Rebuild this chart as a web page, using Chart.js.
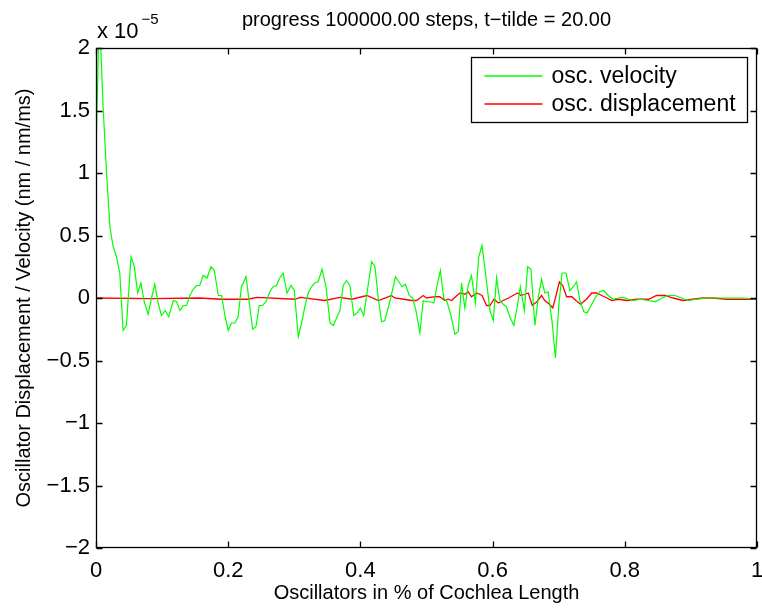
<!DOCTYPE html>
<html>
<head>
<meta charset="utf-8">
<script src="https://cdn.jsdelivr.net/npm/chart.js@4.4.1/dist/chart.umd.min.js"></script>
<style>
  html, body { margin: 0; padding: 0; background: #fff; }
  #wrap { width: 762px; height: 609px; }
</style>
</head>
<body>
<div id="wrap"><canvas id="chart" width="762" height="609"></canvas></div>
<script>
// oscillator position (fraction of cochlea length)
const velX = [
  0, 0.005, 0.011, 0.016, 0.021, 0.026, 0.031, 0.036, 0.041, 0.046,
  0.053, 0.058, 0.063, 0.068, 0.073, 0.079, 0.084, 0.089, 0.094, 0.099,
  0.105, 0.110, 0.117, 0.122, 0.127, 0.132, 0.137, 0.142, 0.147, 0.152,
  0.157, 0.162, 0.168, 0.174, 0.179, 0.185, 0.190, 0.195, 0.200, 0.205,
  0.210, 0.215, 0.220, 0.227, 0.232, 0.237, 0.242, 0.247, 0.252, 0.257,
  0.263, 0.268, 0.273, 0.278, 0.283, 0.289, 0.295, 0.300, 0.306, 0.311,
  0.316, 0.321, 0.326, 0.331, 0.336, 0.342, 0.348, 0.354, 0.359, 0.364,
  0.369, 0.374, 0.379, 0.384, 0.390, 0.395, 0.400, 0.405, 0.410, 0.417,
  0.422, 0.427, 0.432, 0.437, 0.443, 0.448, 0.453, 0.458, 0.463, 0.468,
  0.474, 0.479, 0.484, 0.490, 0.495, 0.500, 0.505, 0.511, 0.516, 0.521,
  0.526, 0.531, 0.537, 0.543, 0.548, 0.553, 0.558, 0.563, 0.568, 0.574,
  0.579, 0.584, 0.590, 0.596, 0.601, 0.606, 0.611, 0.616, 0.621, 0.626,
  0.632, 0.637, 0.642, 0.648, 0.653, 0.658, 0.664, 0.669, 0.674, 0.679,
  0.684, 0.690, 0.695, 0.700, 0.705, 0.711, 0.717, 0.722, 0.727, 0.732,
  0.738, 0.743, 0.748, 0.755, 0.762, 0.768, 0.775, 0.782, 0.790, 0.798,
  0.805, 0.813, 0.823, 0.836, 0.846, 0.856, 0.866, 0.876, 0.886, 0.896,
  0.909, 0.924, 0.939, 0.959, 0.979, 1.0
];
// osc. velocity, units of 1e-5
const velocity = [
  1.16, 2.3, 1.5, 1.0, 0.57, 0.41, 0.33, 0.20, -0.26, -0.22,
  0.33, 0.25, 0.04, 0.12, -0.03, -0.13, 0.0, 0.11, -0.04, -0.14,
  -0.10, -0.15, -0.02, -0.03, -0.10, -0.06, -0.06, 0.02, 0.07, 0.10,
  0.10, 0.18, 0.16, 0.25, 0.22, 0.02, 0.02, -0.14, -0.26, -0.20,
  -0.20, -0.15, 0.09, 0.17, -0.04, -0.25, -0.23, -0.06, -0.06, -0.03,
  0.05, 0.09, 0.10, 0.16, 0.20, 0.04, 0.10, 0.06, -0.31, -0.20,
  -0.07, 0.04, 0.09, 0.12, 0.13, 0.23, 0.09, -0.20, -0.22, -0.16,
  -0.10, 0.10, 0.14, 0.10, -0.14, -0.12, -0.08, -0.14, 0.04, 0.29,
  0.25, 0.0, -0.19, -0.18, -0.06, 0.05, 0.17, 0.13, 0.09, 0.11,
  0.02, 0.0, -0.10, -0.28, -0.02, -0.03, -0.03, -0.04, 0.10, 0.22,
  0.0, -0.03, -0.14, -0.29, -0.27, 0.12, -0.08, 0.10, 0.18, -0.04,
  0.33, 0.42, 0.17, -0.10, -0.18, 0.16, -0.02, -0.05, -0.07, -0.15,
  -0.22, -0.08, 0.09, -0.10, 0.25, 0.23, -0.22, 0.0, 0.15, 0.04,
  0.05, -0.19, -0.48, -0.07, 0.20, 0.20, 0.06, 0.09, 0.13, -0.02,
  -0.11, -0.12, -0.07, 0.0, 0.05, 0.06, 0.02, -0.01, 0.0, 0.005,
  -0.01, -0.02, -0.01, -0.02, -0.03, 0.0, 0.02, 0.02, 0.0, -0.02,
  -0.01, 0.0, 0.0, 0.0, 0.0, -0.01
];

const dispX = [
  0, 0.082, 0.157, 0.188, 0.230, 0.243, 0.301, 0.309, 0.346, 0.369,
  0.387, 0.410, 0.427, 0.440, 0.447, 0.452, 0.465, 0.478, 0.485, 0.490,
  0.495, 0.500, 0.505, 0.513, 0.520, 0.528, 0.533, 0.538, 0.546, 0.551,
  0.558, 0.563, 0.568, 0.576, 0.584, 0.591, 0.596, 0.602, 0.609, 0.616,
  0.624, 0.631, 0.638, 0.643, 0.649, 0.654, 0.660, 0.667, 0.674, 0.679,
  0.686, 0.691, 0.696, 0.701, 0.706, 0.712, 0.720, 0.726, 0.733, 0.742,
  0.750, 0.757, 0.765, 0.773, 0.780, 0.790, 0.803, 0.818, 0.836, 0.848,
  0.861, 0.873, 0.888, 0.903, 0.918, 0.933, 0.954, 0.974, 1.0
];
// osc. displacement, units of 1e-5
const displacement = [
  0, -0.005, 0, -0.01, -0.01, 0.005, -0.01, 0.005, -0.02, 0.005,
  -0.01, 0.02, -0.02, 0.005, 0.02, 0.0, -0.01, -0.02, -0.02, 0.0,
  0.02, 0.0, 0.005, 0.01, 0.01, -0.02, -0.01, -0.02, 0.02, 0.04,
  0.03, 0.05, 0.01, 0.04, 0.02, -0.06, -0.06, -0.01, -0.04, -0.02,
  0.0, 0.02, 0.04, 0.02, 0.03, 0.04, -0.06, -0.03, 0.02, -0.02,
  -0.05, -0.08, 0.02, 0.13, 0.10, 0.01, 0.01, -0.02, -0.05, -0.01,
  0.04, 0.04, 0.02, 0.0, -0.02, -0.01, -0.02, -0.01, -0.01, 0.02,
  0.02, 0.0, -0.02, -0.01, 0.0, 0.0, -0.01, -0.01, -0.01
];

const seriesNames = ['osc. velocity', 'osc. displacement'];
const seriesColors = ['#00ff00', '#ff0000'];
const titleText = 'progress 100000.00 steps, t\u2212tilde = 20.00';
const xTitle = 'Oscillators in % of Cochlea Length';
const yTitle = 'Oscillator Displacement / Velocity (nm / nm/ms)';

const FONT = '"Liberation Sans", Arial, Helvetica, sans-serif';

function minus(v) {
    const s = String(parseFloat(v.toFixed(2)));
    return s.replace('-', '\u2212');
}

// matlab style box, inward ticks, legend and the exponent note
const matlabFrame = {
    id: 'matlabFrame',
    afterDatasetsDraw(chart) {
        const ctx = chart.ctx;
        const a = chart.chartArea;
        const xs = chart.scales.x;
        const ys = chart.scales.y;
        const L = Math.round(a.left) + 0.5, R = Math.round(a.right) - 0.5;
        const T = Math.round(a.top) + 0.5, B = Math.round(a.bottom) - 0.5;
        ctx.save();
        ctx.strokeStyle = '#000';
        ctx.lineWidth = 1.3;
        ctx.strokeRect(L, T, R - L, B - T);

        ctx.beginPath();
        xs.ticks.forEach(t => {
            const px = Math.round(xs.getPixelForValue(t.value)) + 0.5;
            ctx.moveTo(px, B); ctx.lineTo(px, B - 6);
            ctx.moveTo(px, T); ctx.lineTo(px, T + 6);
        });
        ys.ticks.forEach(t => {
            const py = Math.round(ys.getPixelForValue(t.value)) + 0.5;
            ctx.moveTo(L, py); ctx.lineTo(L + 6, py);
            ctx.moveTo(R, py); ctx.lineTo(R - 6, py);
        });
        ctx.stroke();

        // legend
        const lx = R - 9, ly = T + 9;
        const lw = 276, lh = 65;
        ctx.fillStyle = '#fff';
        ctx.fillRect(lx - lw, ly, lw, lh);
        ctx.strokeStyle = '#000';
        ctx.lineWidth = 1.3;
        ctx.strokeRect(lx - lw, ly, lw, lh);
        ctx.font = '23px ' + FONT;
        ctx.textBaseline = 'middle';
        ctx.textAlign = 'left';
        seriesNames.forEach((name, i) => {
            const yy = Math.round(ly + 18 + i * 28);
            ctx.strokeStyle = seriesColors[i];
            ctx.lineWidth = 1.4;
            ctx.beginPath();
            ctx.moveTo(lx - lw + 13, yy);
            ctx.lineTo(lx - lw + 71, yy);
            ctx.stroke();
            ctx.fillStyle = '#000';
            ctx.fillText(name, lx - lw + 80, yy + 1);
        });

        // title
        ctx.fillStyle = '#000';
        ctx.textAlign = 'center';
        ctx.font = '20px ' + FONT;
        ctx.fillText(titleText, (a.left + a.right) / 2, 20);

        // x 10^-5
        ctx.textAlign = 'left';
        ctx.textBaseline = 'alphabetic';
        ctx.font = '22px ' + FONT;
        const base = 'x 10';
        ctx.fillText(base, a.left + 1, 38);
        const w = ctx.measureText(base).width;
        ctx.font = '15px ' + FONT;
        ctx.fillText('\u22125', a.left + 4 + w, 24);
        ctx.restore();
    }
};

const ctx = document.getElementById('chart').getContext('2d');
new Chart(ctx, {
    type: 'line',
    data: {
        datasets: [{
            label: seriesNames[0],
            data: velX.map((x, i) => ({ x: x, y: velocity[i] })),
            borderColor: seriesColors[0],
            borderWidth: 1.2,
            pointRadius: 0,
            tension: 0,
            fill: false
        }, {
            label: seriesNames[1],
            data: dispX.map((x, i) => ({ x: x, y: displacement[i] })),
            borderColor: seriesColors[1],
            borderWidth: 1.3,
            pointRadius: 0,
            tension: 0,
            fill: false
        }]
    },
    options: {
        responsive: false,
        animation: false,
        layout: { padding: { top: 48, right: 5, left: 0, bottom: 0 } },
        plugins: {
            legend: { display: false },
            tooltip: { enabled: false },
            title: { display: false }
        },
        scales: {
            x: {
                type: 'linear',
                min: 0,
                max: 1,
                grid: { display: false, drawTicks: false },
                border: { display: false },
                ticks: {
                    stepSize: 0.2,
                    color: '#000',
                    padding: 10,
                    maxRotation: 0,
                    font: { family: FONT, size: 22 },
                    callback: v => minus(v)
                },
                title: {
                    display: true,
                    text: xTitle,
                    color: '#000',
                    font: { family: FONT, size: 20 },
                    padding: { top: 0, bottom: 4 }
                },
                afterFit: s => { s.height = 61; s.paddingLeft = 0; s.paddingRight = 0; }
            },
            y: {
                min: -2,
                max: 2,
                grid: { display: false, drawTicks: false },
                border: { display: false },
                ticks: {
                    stepSize: 0.5,
                    color: '#000',
                    padding: 6,
                    font: { family: FONT, size: 22 },
                    callback: v => minus(v)
                },
                title: {
                    display: true,
                    text: yTitle,
                    color: '#000',
                    font: { family: FONT, size: 20 },
                    padding: { top: 12, bottom: 0 }
                },
                afterFit: s => { s.width = 96; s.paddingTop = 0; s.paddingBottom = 0; }
            }
        }
    },
    plugins: [matlabFrame]
});
</script>
</body>
</html>
